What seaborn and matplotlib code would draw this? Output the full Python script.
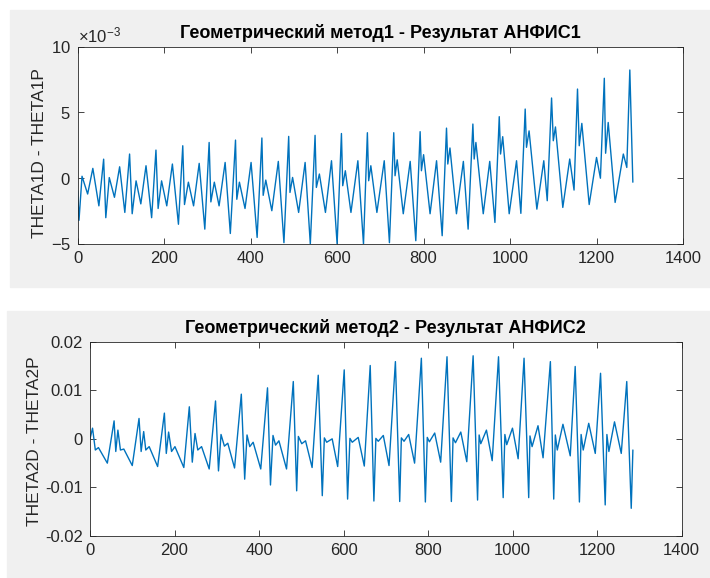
import matplotlib
matplotlib.use("Agg")
import matplotlib.pyplot as plt
import matplotlib.ticker as mticker
from matplotlib.patches import Rectangle
import numpy as np
import pandas as pd
import seaborn as sns

# turning points (top: values in 1e-3 units)
t1 = [0, 3, 10, 23, 35, 49, 60,
      65, 73, 85, 97, 109, 120,
      126, 135, 146, 158, 171, 181,
      186, 194, 206, 219, 233, 243,
      247, 256, 268, 281, 294, 304,
      308, 316, 327, 341, 353, 365,
      368, 374, 387, 401, 415, 426,
      429, 435, 449, 464, 477, 488,
      491, 497, 511, 526, 538, 549,
      552, 559, 573, 587, 600, 610,
      613, 619, 632, 648, 661, 670,
      673, 678, 692, 709, 721, 731,
      734, 739, 753, 769, 782, 792,
      795, 800, 815, 830, 843, 853,
      856, 861, 876, 892, 903, 914,
      917, 921, 938, 953, 965, 975,
      978, 983, 998, 1015, 1025, 1035,
      1038, 1044, 1062, 1078, 1086, 1096,
      1100, 1105, 1122, 1138, 1148, 1156,
      1160, 1166, 1183, 1200, 1209, 1218,
      1221, 1227, 1243, 1262, 1270, 1277, 1284]
v1 = [-0.95, -3.2, 0.15, -1.2, 0.75, -2.1, 1.45,
      -3.0, 0.05, -1.45, 0.87, -2.6, 1.84,
      -2.7, -0.2, -1.95, 0.95, -3.0, 2.14,
      -2.3, -0.2, -2.1, 1.08, -3.5, 2.47,
      -2.0, -0.3, -2.1, 1.13, -3.87, 2.72,
      -1.8, -0.3, -2.1, 1.2, -4.2, 2.9,
      -1.6, -0.3, -2.3, 1.2, -4.5, 3.06,
      -1.3, -0.14, -2.47, 1.28, -4.9, 3.18,
      -1.08, 0.06, -2.6, 1.2, -5.0, 3.26,
      -0.7, 0.32, -2.6, 1.33, -5.0, 3.4,
      -0.57, 0.57, -2.6, 1.33, -5.0, 3.46,
      -0.19, 0.95, -2.6, 1.33, -4.9, 3.46,
      0.19, 1.4, -2.7, 1.28, -4.75, 3.54,
      0.57, 1.79, -2.7, 1.33, -4.37, 3.81,
      1.08, 2.3, -2.7, 1.28, -3.87, 4.12,
      1.46, 2.72, -2.7, 1.28, -3.36, 4.68,
      1.84, 3.16, -2.7, 1.33, -2.67, 5.26,
      2.35, 3.6, -2.35, 1.33, -1.71, 6.1,
      2.85, 3.9, -2.22, 1.46, -0.9, 6.78,
      2.47, 4.17, -2.0, 1.58, 0.0, 7.6,
      1.9, 4.24, -1.84, 1.84, 0.82, 8.23, -0.3]

# bottom: values in 1e-3 units
t2 = [0, 6, 12.6, 20, 41,
      57, 61, 66, 72, 80, 100,
      116, 121, 127, 132, 140, 160,
      176, 180.5, 186, 193, 201, 222,
      235, 242, 248.5, 255, 264, 282,
      297, 304, 310, 318, 326, 342,
      358, 366, 371.5, 378, 386, 404,
      420, 427, 433, 439, 447, 465,
      481, 489, 493, 501, 510, 525.5,
      540, 549.6, 554.5, 560, 573, 586,
      601.5, 609.5, 615, 620.5, 634.6, 649,
      663, 671.7, 676.4, 682, 694, 707.5,
      722.6, 732.8, 736.7, 743, 754, 768,
      784, 793.5, 798, 803, 815.6, 829.7,
      844.7, 855, 859, 864.7, 877.3, 891.5,
      906.5, 917, 920.7, 924.6, 938, 951.6,
      966.6, 977.6, 981.6, 986, 999.6, 1013,
      1027, 1038, 1041, 1046, 1060, 1072,
      1089.3, 1097.2, 1101, 1105.6, 1119, 1136.3,
      1148, 1158, 1162, 1167, 1180, 1195.5,
      1208, 1219, 1223, 1227.7, 1241, 1257,
      1270, 1280.6, 1284.5]
v2 = [0.0, 2.2, -2.3, -1.8, -5.0,
      3.7, -2.6, 1.8, -2.3, -2.1, -5.5,
      4.2, -2.6, 1.5, -2.3, -1.6, -5.7,
      5.3, -3.0, 1.4, -2.6, -1.6, -5.9,
      6.6, -4.8, 1.1, -2.3, -1.6, -6.2,
      7.8, -6.6, 0.9, -1.5, -0.9, -6.0,
      9.2, -8.3, 0.8, -1.6, -0.7, -6.2,
      10.5, -9.5, 0.7, -1.3, -0.4, -6.2,
      11.8, -10.7, 0.5, -1.0, -0.4, -5.9,
      13.1, -11.7, 0.2, -0.7, 0.0, -5.7,
      14.2, -12.4, 0.1, -0.7, 0.3, -5.6,
      15.1, -12.8, 0.1, -0.5, 0.7, -5.5,
      15.9, -12.9, 0.2, -0.5, 0.9, -5.0,
      16.6, -13.0, 0.3, -0.6, 1.2, -4.8,
      16.9, -12.9, 0.2, -0.8, 1.4, -4.7,
      17.1, -12.6, 0.8, -1.0, 1.8, -4.5,
      16.9, -12.1, 0.9, -1.2, 2.2, -4.1,
      16.6, -12.1, 0.6, -1.6, 2.7, -3.9,
      15.9, -12.4, 0.8, -2.3, 3.0, -3.5,
      14.9, -13.0, 0.9, -2.3, 3.2, -3.0,
      13.5, -13.6, 0.9, -2.6, 3.5, -3.0,
      11.8, -14.3, -2.3]

titles = ["Геометрический метод1 - Результат АНФИС1",
          "Геометрический метод2 - Результат АНФИС2"]
ylabels = ["THETA1D - THETA1P", "THETA2D - THETA2P"]
xticks = [0, 200, 400, 600, 800, 1000, 1200, 1400]
yticks1 = [-5e-3, 0, 5e-3, 10e-3]
yticks2 = [-0.02, -0.01, 0, 0.01, 0.02]

sns.set_style("ticks")
plt.rcParams['font.family'] = ['Liberation Sans', 'DejaVu Sans']
plt.rcParams['axes.unicode_minus'] = False
plt.rcParams['mathtext.fontset'] = 'custom'
plt.rcParams['mathtext.rm'] = 'Liberation Sans'

line_color = '#0072BD'
text_color = '#262626'

fig = plt.figure(figsize=(7.1, 5.78), dpi=100)
fig.patch.set_facecolor('white')
# grey window backgrounds of the two screenshots
fig.patches.append(Rectangle((10 / 710, 1 - 287 / 578), 700 / 710, 277 / 578,
                             transform=fig.transFigure, color='#F0F0F0', zorder=-10))
fig.patches.append(Rectangle((7 / 710, 0), 703 / 710, 267 / 578,
                             transform=fig.transFigure, color='#F0F0F0', zorder=-10))

ax1 = fig.add_axes([77.7 / 710, 1 - 244 / 578, 605.3 / 710, 197.3 / 578])
ax2 = fig.add_axes([90 / 710, 1 - 536 / 578, 591.7 / 710, 194.3 / 578])

df1 = pd.DataFrame({'t': t1, 'v': np.array(v1) * 1e-3})
df2 = pd.DataFrame({'t': t2, 'v': np.array(v2) * 1e-3})

for ax, df in [(ax1, df1), (ax2, df2)]:
    sns.lineplot(data=df, x='t', y='v', ax=ax, color=line_color, linewidth=1.0,
                 estimator=None, sort=False)
    ax.lines[0].set_solid_joinstyle('round')

for ax, title, ylab, yt in [(ax1, titles[0], ylabels[0], yticks1),
                            (ax2, titles[1], ylabels[1], yticks2)]:
    ax.set_facecolor('white')
    ax.set_xlim(0, 1400)
    ax.set_xticks(xticks)
    ax.set_yticks(yt)
    ax.set_ylim(yt[0], yt[-1])
    ax.set_title(title, fontsize=13, fontweight='bold', color='black', pad=6)
    ax.set_xlabel('')
    ax.set_ylabel(ylab, fontsize=12.5, color=text_color)
    ax.tick_params(direction='in', top=True, right=True, length=4, width=0.6,
                   colors=text_color, labelsize=12, pad=5)
    for sp in ax.spines.values():
        sp.set_visible(True)
        sp.set_color(text_color)
        sp.set_linewidth(0.6)

ax1.ticklabel_format(axis='y', style='sci', scilimits=(-3, -3), useMathText=True)
ax1.yaxis.get_offset_text().set_fontsize(12)
ax1.yaxis.get_offset_text().set_color(text_color)
ax2.yaxis.set_major_formatter(mticker.FuncFormatter(lambda v, p: f'{v:g}'))

ax1.yaxis.set_label_coords(-0.051, 0.46)
ax2.yaxis.set_label_coords(-0.081, 0.49)

fig.savefig('out.png', dpi=100)
